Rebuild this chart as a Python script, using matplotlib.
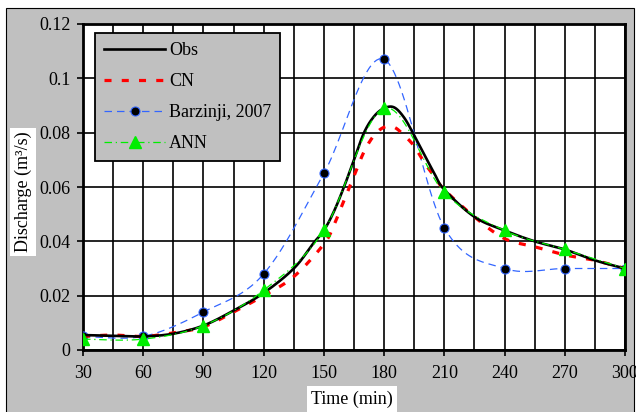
import numpy as np
import matplotlib
matplotlib.use("Agg")
import matplotlib.pyplot as plt
from matplotlib.patches import Rectangle
from matplotlib.ticker import MultipleLocator

plt.rcParams['font.family'] = ['Liberation Serif', 'DejaVu Serif']

# discharge hydrographs, time in minutes, discharge in m3/s
t_obs = [30, 45, 60, 75, 90, 105, 120, 135, 145, 150, 155, 160, 165, 170, 175, 180, 185, 190,
         195, 200, 205, 210, 225, 240, 255, 270, 285, 300]
obs = [0.0055, 0.0052, 0.005, 0.006, 0.009, 0.0145, 0.021, 0.030, 0.0395, 0.044, 0.051, 0.060,
       0.070, 0.080, 0.086, 0.089, 0.0893, 0.0855, 0.079, 0.072, 0.065, 0.059, 0.049, 0.044,
       0.040, 0.037, 0.033, 0.030]

t_cn = [30, 45, 60, 75, 90, 105, 120, 135, 150, 155, 160, 165, 170, 175, 180, 185, 190, 195,
        200, 205, 210, 225, 240, 255, 270, 285, 300]
cn = [0.005, 0.0055, 0.005, 0.0063, 0.0085, 0.014, 0.020, 0.027, 0.039, 0.046, 0.055, 0.064,
      0.073, 0.079, 0.082, 0.082, 0.079, 0.075, 0.069, 0.064, 0.059, 0.049, 0.041, 0.038,
      0.035, 0.033, 0.030]

t30 = [30, 60, 90, 120, 150, 180, 210, 240, 270, 300]
barzinji = [0.005, 0.005, 0.014, 0.028, 0.065, 0.107, 0.045, 0.030, 0.030, 0.030]
ann = [0.004, 0.004, 0.009, 0.022, 0.044, 0.089, 0.058, 0.044, 0.037, 0.030]


def smooth(x, y, n=24):
    # Bezier smoothing like a spreadsheet "smoothed line"
    p = np.column_stack([x, y]).astype(float)
    p = np.vstack([p[0], p, p[-1]])
    out = []
    for i in range(1, len(p) - 2):
        p0, p1, p2, p3 = p[i - 1], p[i], p[i + 1], p[i + 2]
        c1 = p1 + (p2 - p0) / 6
        c2 = p2 - (p3 - p1) / 6
        s = np.linspace(0, 1, n, endpoint=False)[:, None]
        out.append((1 - s) ** 3 * p1 + 3 * (1 - s) ** 2 * s * c1 + 3 * (1 - s) * s ** 2 * c2 + s ** 3 * p2)
    out.append(p[-2][None, :])
    out = np.vstack(out)
    return out[:, 0], out[:, 1]


fig = plt.figure(figsize=(6.36, 4.12), dpi=100)
fig.patch.set_facecolor('white')
fig.patches.append(Rectangle((6 / 636, -0.01), 628 / 636, 1.01 - 8 / 412, transform=fig.transFigure,
                             facecolor='#c0c0c0', edgecolor='black', lw=0.8, zorder=-5))

ax = fig.add_axes([83 / 636, 62 / 412, 542 / 636, 326 / 412])
ax.set_facecolor('white')

xs, ys = smooth(t_obs, obs)
ax.plot(xs, ys, color='black', lw=1.9, label='Obs', zorder=5)

xs, ys = smooth(t_cn, cn)
ax.plot(xs, ys, color='red', lw=2.3, dashes=(2.2, 3.2), label='CN', zorder=4)

xs, ys = smooth(t30, barzinji)
ax.plot(xs, ys, color='#3366ff', lw=0.9, dashes=(6, 4), zorder=3)
ax.plot(t30, barzinji, ls='none', marker='o', ms=6.5, mfc='black', mec='#3366ff', mew=0.8, zorder=3)
ax.plot([], [], color='#3366ff', lw=0.9, dashes=(6, 4), marker='o', ms=6.5, mfc='black',
        mec='#3366ff', mew=0.8, label='Barzinji, 2007')

xs, ys = smooth(t30, ann)
ax.plot(xs, ys, color='#00ee00', lw=0.9, dashes=(6, 3, 1, 3), zorder=6)
ax.plot(t30, ann, ls='none', marker='^', ms=9, color='#00ee00', zorder=6)
ax.plot([], [], color='#00ee00', lw=0.9, dashes=(6, 3, 1, 3), marker='^', ms=9, label='ANN')

ax.set_xlim(30, 300)
ax.set_ylim(0, 0.12)
ax.xaxis.set_major_locator(MultipleLocator(30))
ax.xaxis.set_minor_locator(MultipleLocator(15))
ax.set_yticks([0, 0.02, 0.04, 0.06, 0.08, 0.1, 0.12])
ax.set_yticklabels(['0', '0.02', '0.04', '0.06', '0.08', '0.1', '0.12'])
ax.grid(True, which='both', axis='x', color='black', lw=1.2)
ax.grid(True, which='major', axis='y', color='black', lw=1.2)
ax.set_axisbelow(True)
for sp in ax.spines.values():
    sp.set_linewidth(2)
ax.tick_params(which='major', direction='out', length=4, width=1.2, labelsize=13, pad=5)
ax.tick_params(which='minor', length=0)
ax.tick_params(axis='x', pad=7)

leg = ax.legend(loc='upper left', bbox_to_anchor=(95 / 636, 1 - 33 / 412), bbox_transform=fig.transFigure,
                borderaxespad=0, fontsize=13, handlelength=3.4, handletextpad=0.2, labelspacing=0.78,
                borderpad=0.5, fancybox=False, framealpha=1, facecolor='#c0c0c0', edgecolor='black')
leg.get_frame().set_linewidth(1.3)
leg.set_zorder(10)

fig.text(23 / 636, 1 - 192 / 412, 'Discharge (m³/s)', rotation=90, ha='center', va='center', fontsize=13,
         bbox=dict(facecolor='white', edgecolor='none', pad=3))
fig.text(352 / 636, 1 - 399 / 412, 'Time (min)', ha='center', va='center', fontsize=13,
         bbox=dict(facecolor='white', edgecolor='none', pad=3))

fig.savefig('out.png', dpi=100)
